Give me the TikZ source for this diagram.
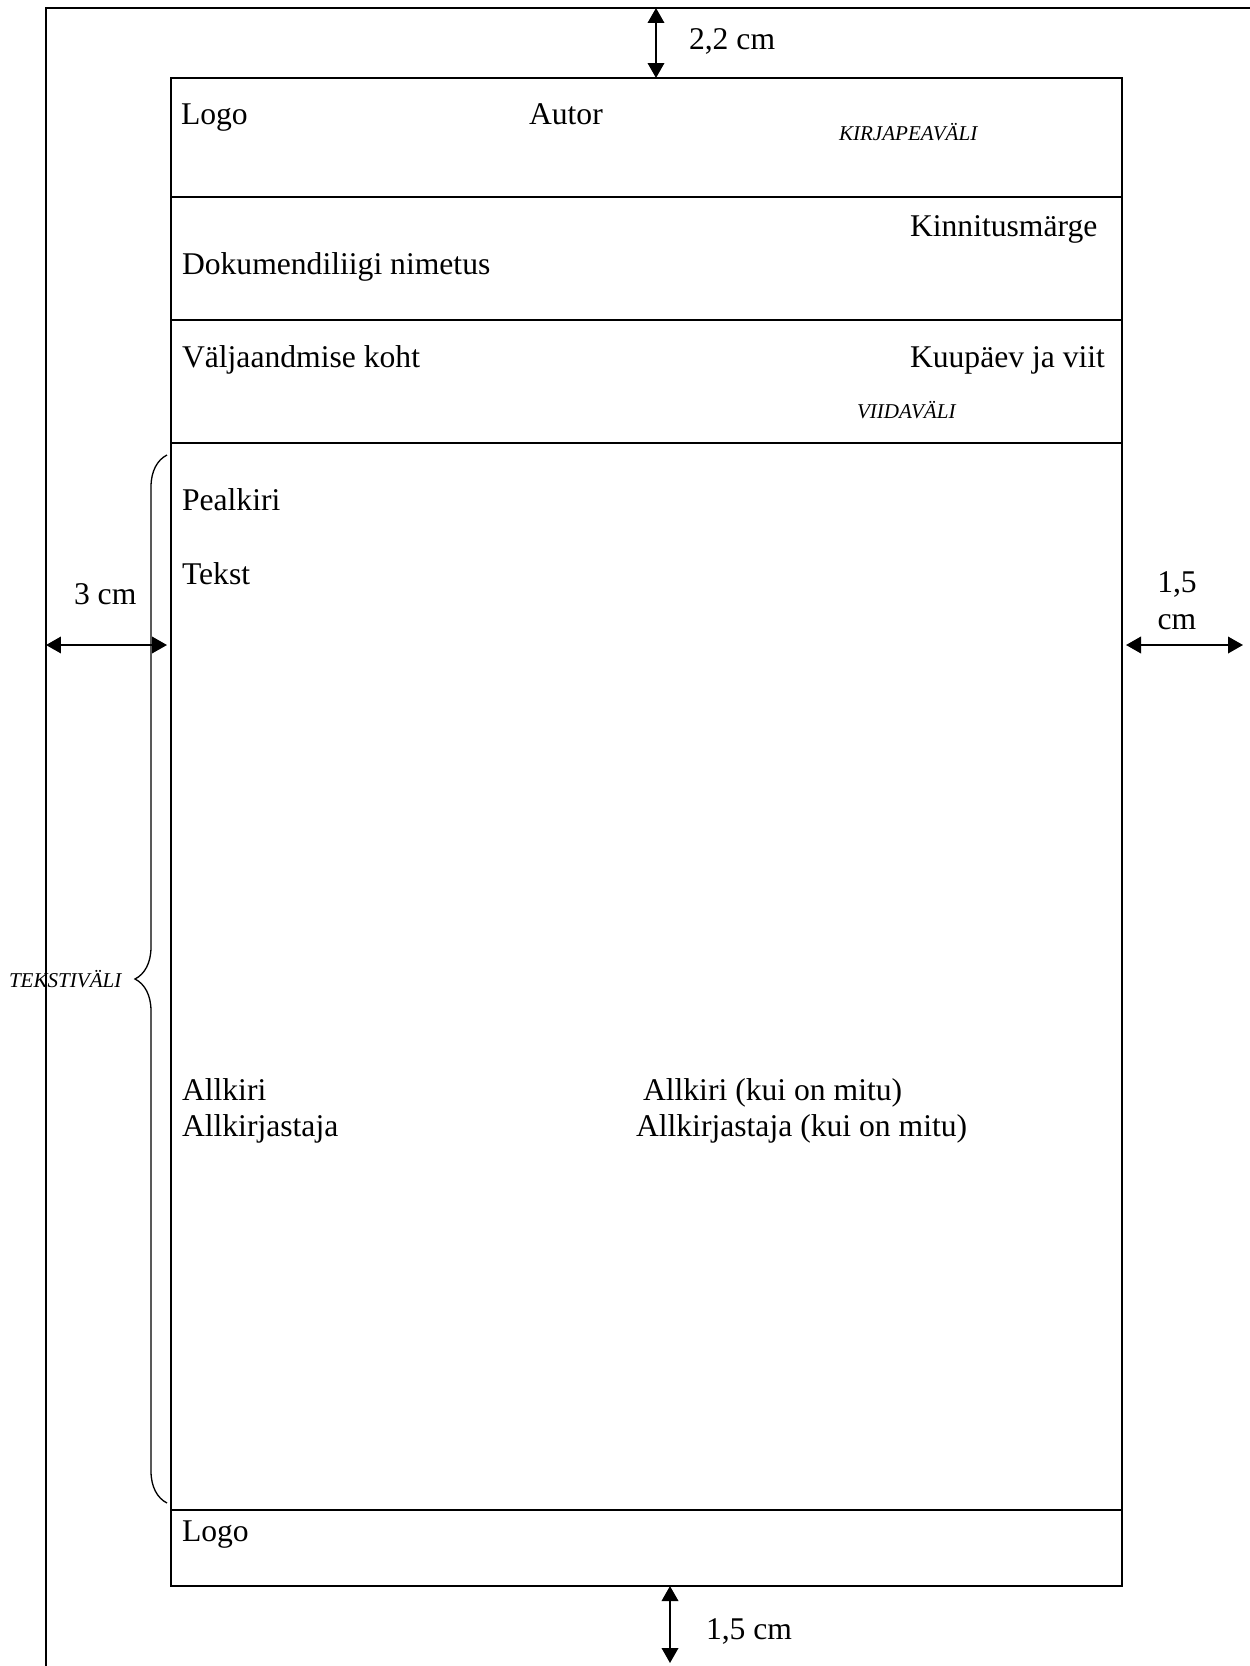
\documentclass[tikz,border=0pt]{standalone}
\usepackage{fontspec}
\setmainfont{Liberation Serif}
\usetikzlibrary{arrows.meta,decorations.pathreplacing}

\begin{document}
\begin{tikzpicture}[x=0.02cm,y=-0.02cm,line width=1.15pt,
    txt/.style={anchor=base west,inner sep=0pt,font=\fontsize{18}{21}\selectfont},
    lbl/.style={anchor=base west,inner sep=0pt,font=\fontsize{12}{14}\selectfont\itshape},
    >={Triangle[length=3mm,width=3.3mm]}]
    \useasboundingbox (0,0) rectangle (1250,1666);

    % leht ja tekstiala
    \draw (46,1670) -- (46,8) -- (1252,8);
    \draw (171,78) rectangle (1122,1586);
    \foreach \y in {197,320,443,1510}
        \draw (171,\y) -- (1122,\y);

    \node[txt] (logo1) at (180,125) {Logo};
    \node[txt] (autor) at (528,125) {Autor};
    \node[lbl] (kirjapea) at (838,140) {KIRJAPEAVÄLI};
    \node[txt] (kinnitus) at (909,236) {Kinnitusmärge};
    \node[txt] (liik) at (181,274) {Dokumendiliigi nimetus};
    \node[txt] (koht) at (181,367) {Väljaandmise koht};
    \node[txt] (kuupaev) at (909,367) {Kuupäev ja viit};
    \node[lbl] (viit) at (856,418) {VIIDAVÄLI};
    \node[txt] (pealkiri) at (181,510) {Pealkiri};
    \node[txt] (tekst) at (181,584) {Tekst};
    \node[txt] (allkiri1) at (181,1100) {Allkiri};
    \node[txt] (allkirjastaja1) at (181,1136) {Allkirjastaja};
    \node[txt] (allkiri2) at (642,1100) {Allkiri (kui on mitu)};
    \node[txt] (allkirjastaja2) at (635,1136) {Allkirjastaja (kui on mitu)};
    \node[txt] (logo2) at (181,1541) {Logo};

    % veerised
    \coordinate (ylemine1) at (656,8);
    \coordinate (ylemine2) at (656,78);
    \coordinate (vasak1) at (46,645);
    \coordinate (vasak2) at (167,645);
    \coordinate (parem1) at (1126,645);
    \coordinate (parem2) at (1243,645);
    \coordinate (alumine1) at (670,1586);
    \coordinate (alumine2) at (670,1663);

    \draw[<->] (ylemine1) -- (ylemine2);
    \draw[<->] (vasak1) -- (vasak2);
    \draw[<->] (parem1) -- (parem2);
    \draw[<->] (alumine1) -- (alumine2);

    \node[txt] (ylemine) at (688,50) {2,2 cm};
    \node[txt] (vasak) at (73,604) {3 cm};
    \node[txt,anchor=center,align=center] (parem) at (1177,601) {1,5\\cm};
    \node[txt] (alumine) at (705,1639) {1,5 cm};

    % tekstiväli
    \coordinate (sulg1) at (167,1503);
    \coordinate (sulg2) at (167,455);
    \draw[line width=0.75pt,decorate,decoration={brace,amplitude=0.64cm}] (sulg1) -- (sulg2);
    \node[lbl] (tekstivali) at (8,987) {TEKSTIVÄLI};
\end{tikzpicture}
\end{document}
